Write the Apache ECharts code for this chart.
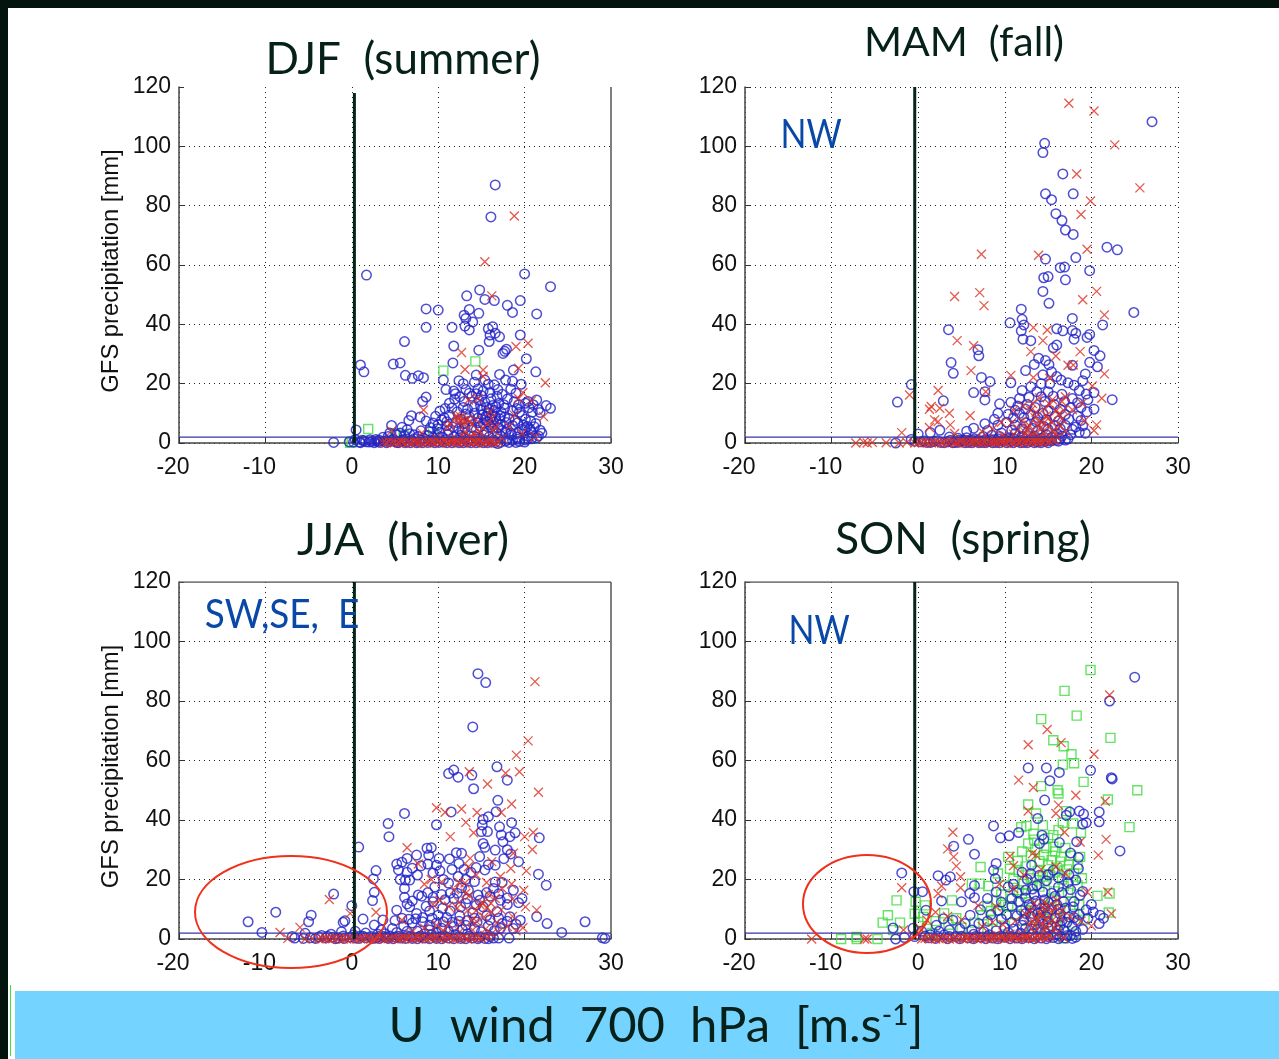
<!DOCTYPE html>
<html>
<head>
<meta charset="utf-8">
<title>GFS precipitation vs U wind</title>
<script src="https://cdn.jsdelivr.net/npm/echarts@6/dist/echarts.min.js"></script>
<style>
  html, body { margin: 0; padding: 0; background: #fff; }
  #main { width: 1279px; height: 1059px; }
</style>
</head>
<body>
<div id="main"></div>
<script>
// values: [u wind, precipitation]
const xTicks = [-20, -10, 0, 10, 20, 30];
const yTicks = [0, 20, 40, 60, 80, 100, 120];
const titles = ["DJF  (summer)", "MAM  (fall)", "JJA  (hiver)", "SON  (spring)"];

const djfSquares = [[1.9,4.7],[10.6,24.4],[14.3,27.5],[0,0.2],[-0.2,0.1],[9.4,3.8],[5,3.2],[6,2.8]];
const djfCircles = [[16.6,87],[16.1,76.2],[1.7,56.6],[20,57],[23,52.7],[14.8,51.6],[13.3,49.6],[15.4,48.4],[16.5,48],[19.5,48],[18,46.4],[18.6,44],[21.4,43.5],[8.6,45.2],[10,44.8],[13.6,45],[14.7,43.7],[13,43.1],[13.2,42],[14,40.8],[8.6,39],[11.6,39],[13.1,39.4],[13.6,38.1],[15.8,38.5],[16.3,39.2],[16,36.4],[16.6,37],[17.1,35.8],[15.9,34.2],[19.5,36.4],[6.1,34.2],[11.8,32.7],[14.7,31.3],[17.5,30.2],[17.9,31.6],[17.7,30.9],[20.2,28.4],[1,26.3],[1.4,24],[4.8,26.6],[5.6,27],[6.2,22.8],[7,21.8],[7.7,22.7],[8.3,22],[11.7,27],[21.3,24],[10.6,21.2],[14.4,22.9],[17.1,23.1],[18.7,24.6],[12.4,21],[12.9,20],[14.2,20.5],[15.4,21.2],[15.8,19.8],[17.8,21.2],[18.6,20.8],[19.6,19.8],[10.9,18],[11.8,17.5],[13.2,18],[13.6,16.8],[14.6,18.2],[16,17],[16.9,18],[18.4,18.2],[19,16.8],[11.9,14.8],[13.9,15.8],[15,16],[8.6,15.5],[8.2,14],[21.4,14.5],[22.5,12.6],[23,11.7],[20.5,11.9],[20.9,10.4],[19.7,9.3],[16.3,12.6],[17,13.3],[17.6,12.9],[16.5,11],[17.3,10.4],[15.8,10.2],[15,11.2],[14.2,10],[13.2,9.8],[12.2,10.5],[11.3,9.4],[10.7,8.5],[11,7.2],[10,6.2],[6.9,9.2],[6.6,7.6],[7.9,8.8],[8.6,7.4],[9.4,6.7],[4.6,5.9],[5.8,5.3],[6.4,4.5],[18.2,8.3],[18.9,7.6],[16.7,7.3],[17.2,6.2],[15.4,7.8],[14.6,6.8],[13.8,7.5],[13,6.5],[12.1,6.9],[19.9,6],[20.3,5.6],[21.1,5.5],[21.8,4.3],[22,3.3],[19.7,4.6],[20.8,3.6],[18,4.6],[16.3,4.9],[15.6,4],[14.4,4.4],[12.8,3.9],[11.2,4.2],[10.2,3.6],[9,3.9],[8,4.1],[7.2,2.8],[6.1,2.4],[5.2,2.8],[4.4,3.4],[3.6,1.9],[2.8,1.2],[0.5,4.4],[-2.1,0.2],[-0.3,0.4],[0.2,0.3],[0.9,0.3],[1.6,0.4],[2.3,0.5],[3,0.4],[3.7,0.6],[4.3,0.4],[5,0.5],[5.7,0.7],[6.4,0.4],[7.1,0.6],[7.8,0.3],[8.5,0.7],[9.2,0.4],[9.9,0.6],[10.6,0.3],[11.3,0.7],[12,0.4],[12.7,0.6],[13.4,0.3],[14.1,0.7],[14.8,0.4],[15.5,0.6],[16.2,0.3],[16.9,-0.2],[17.8,0.6],[18.6,0.9],[19.4,0.5],[20.1,1],[20.8,1.4],[21.4,1.8],[13,1.6],[14.5,1.9],[15.9,2.1],[17.2,2.4],[18.5,2.7],[11.8,2.1],[10.5,1.9],[9.4,1.8],[8.3,1.6],[7.2,1.4],[6,1.2],[4.8,1.3]];
const djfDense = [[14.9,12.6],[15.4,13.8],[16.1,14.9],[16.8,15.8],[15.6,12],[16.2,9],[15.1,9.4],[14.6,8.4],[13.6,8.9],[17.7,8.8],[17.1,8.2],[16.4,7],[15.9,6.2],[14.9,5.6],[13.9,5.3],[13.1,5],[12.4,4.8],[11.7,5.4],[11,5.9],[10.4,7.8],[9.9,4.8],[9.1,5.2],[17.9,6.9],[18.6,5.9],[19.2,6.8],[19.4,10.4],[19.1,11.6],[18.6,10.9],[17.7,11.8],[20.1,8],[20.7,7.4],[21.3,6.6],[21.6,2.4],[20.4,2.3],[19.1,2],[17.8,3.4],[16.8,3.3],[15.3,2.7],[14.1,2.4],[12.6,2.6],[11.1,2.9],[9.9,2.6],[8.8,2.5],[7.7,2.2],[6.7,3.1],[5.6,3.4],[4.2,2.2],[3.2,0.9],[2.1,1.1],[1.2,0.9],[0.4,1.2],[1,0.1],[2.6,0.1],[4,0.1],[5.4,0.1],[6.8,0.1],[8.2,0.1],[9.6,0.1],[11,0.1],[12.4,0.1],[13.8,0.1],[15.2,0.1],[16.6,0.2],[18.2,0.2],[19,0.2],[12.6,8],[13.4,11.4],[14.2,12.3],[12.9,12],[11.6,11.8],[10.8,11.6],[10.2,10.8],[9.7,9],[12.5,15.6],[13,14],[11.3,13.4],[14.7,14.4],[18,14.8],[18.8,13.9],[19.3,12.9],[20.1,13.4],[20.4,14],[21,12.9],[21.6,11.3],[21.8,10.3],[12,16.6],[15.2,17.6],[14.4,16.6],[16.5,19.6],[17.4,16.4],[16,8.3],[16.6,8.9],[17.2,9.2],[15.5,9],[15.9,11.4],[16.7,12.2],[15.2,6.7],[15.7,7.2],[16.1,5.5],[17.4,4.2],[16.9,5.1],[18.4,3.4],[19.2,3.5],[20,4.2],[20.6,4.8]];
const djfBase = [[1.4,0.8],[2,0.3],[2.9,0.7],[3.3,0.2],[4,0.8],[4.6,1],[5.2,0.2],[5.9,0.9],[6.2,0.1],[6.9,0.9],[7.5,0.1],[8,0.9],[8.8,0.2],[9.4,1],[10.1,0.2],[10.9,0.9],[11.6,0.1],[12.2,1],[12.9,0.1],[13.6,1],[14.4,0.1],[15,1],[15.7,0.1],[16.4,1],[17.2,0.2],[18,1.2],[19.2,1.3],[20,0.3],[20.4,1.5]];
const djfCrosses = [[18.8,76.5],[15.4,61.1],[16.2,49.6],[19,32.5],[20.4,33.6],[22.4,20.3],[12.7,30.5],[13.1,24.8],[15.2,24.6],[15.2,22.4],[19.3,25.2],[19.8,17],[19.3,15],[20.8,14.2],[22.2,8.9],[18.8,9.4],[8.3,11.1],[13.5,14.5],[14.6,15],[16,10.6],[21.2,2.1],[12.3,8.2],[12.9,7.6],[13.6,7.2],[14.4,7.8],[11.1,5.4],[13.1,3.8],[14.2,3.2],[15.2,5],[16.4,4.2],[18.2,5.6],[19.7,3.2],[3.6,0.2],[4.3,0.5],[5,0.2],[5.8,0.4],[6.5,0.2],[7.2,0.4],[7.9,0.3],[8.6,0.2],[9.3,0.4],[10,0.3],[10.7,0.5],[11.4,0.2],[12.1,0.5],[12.8,0.3],[13.5,0.6],[14.2,0.3],[14.9,0.5],[15.6,0.3],[16.3,0.5],[17,0.3],[13.9,1.6],[11.6,1.2],[9.8,1.5],[8.1,3.4],[4.6,4.1],[12.1,9.2],[12.6,8.9],[13.4,8.1],[11.4,6.4],[13.9,6.2],[14.8,3.8],[15.7,6.6],[16.2,8.3],[16.6,5.4],[17.4,1.6],[12.2,1.2],[13.2,1.4],[14.6,0.9],[15.9,1.2],[10.8,1.1],[9.1,1],[7.4,0.9],[5.6,0.8]];
const djfCrossBase = [[4,0.1],[4.7,0.3],[5.4,0],[6.1,0.2],[6.8,0],[7.5,0.2],[8.2,0],[8.9,0.3],[9.6,0],[10.3,0.2],[11,0],[11.7,0.3],[12.4,0],[13.1,0.2],[13.8,0],[14.5,0.2],[15.2,0],[15.9,0.2],[16.6,0],[12.9,2.4],[13.7,2.2],[14.6,1.8],[12.4,7],[13,6.2]];

const mamCircles = [[27,108.3],[14.6,101],[14.4,97.9],[16.7,90.7],[14.7,84],[15.4,82],[17.9,84],[15.9,77.3],[16.6,75],[17,71.8],[17.9,70.3],[18.2,62.5],[14.7,62],[16.4,59.1],[16.9,59.3],[19.8,58.1],[14.5,55.7],[15,56.1],[17,55],[14.4,51.1],[15.1,47.1],[21.8,66],[23,65.1],[24.9,44],[11.9,45.1],[12,41.7],[12.2,39.8],[10.6,40.5],[11.9,37.8],[12.1,35],[13,34.5],[3.5,38.2],[17.8,42],[21.3,39.8],[16,38.5],[16.7,37.8],[17.8,37.9],[18.2,37],[18,35],[19.8,36.6],[19.5,35.6],[6.9,31.4],[7,29.4],[3.8,27.1],[4.05,23.5],[7.3,22.1],[8.3,20.7],[10.7,20.3],[6.4,17],[7.7,17.3],[7.7,14.5],[2.9,14.2],[-0.8,19.7],[-2.4,13.8],[22.4,14.6],[20.3,31.2],[21,29.4],[20.3,11.4],[15.6,32.1],[16,33],[13.9,28.6],[13.4,26.5],[12.4,24.4],[14.7,27.8],[15.1,26.4],[19.8,27.2],[17.8,26.2],[20.7,25.7],[19.3,23.3],[17.3,20.3],[16,22.4],[16.5,21.2],[12,17.7],[13.7,17.3],[15,17.3],[18.6,17.7],[19.4,16.5],[20.3,17],[9.4,13.2],[10.7,13.7],[11.5,12.5],[12.6,13],[13.5,12],[14.6,14],[15.7,13],[16.9,14],[17.8,15],[18.8,12],[19.5,10.5],[18.4,9],[17,9.6],[15.8,9],[14.4,10],[13,9.5],[11.7,10],[10.4,9.7],[9.2,10],[8.8,8],[7.7,6.5],[6.4,5],[5.6,4],[2.5,4.3],[1.4,3.5],[0,3],[3.6,2],[4.6,1.6],[5.6,1.8],[6.5,1.4],[7.5,2.2],[8.5,2.6],[9.6,3.4],[10.8,4.3],[12,4.8],[13.2,5],[14.5,5.6],[15.8,5.8],[17,6],[18.2,5.4],[19.3,3.3],[16,3.2],[14.8,2.8],[13.4,2.4],[12,2.2],[10.6,1.8],[9.2,1.4],[0.3,0.4],[1,0.2],[1.8,0.5],[2.6,0.2],[3.4,0.4],[4.2,0.2],[5,0.6],[5.8,0.2],[6.6,0.5],[7.4,0.2],[8.2,0.5],[9,0.2],[9.8,0.6],[10.6,0.3],[11.4,0.5],[12.2,0.2],[13,0.6],[13.8,0.3],[14.6,0.6],[15.4,0.8],[16.2,0.6],[17,1],[-0.8,1.2],[-2.6,0]];
const mamDense = [[4.7,0.9],[5.3,1],[6,0.8],[6.9,1],[7.8,0.9],[8.7,1.1],[4,0.1],[4.6,0.2],[5.4,0.1],[6.2,0.1],[7,0.1],[7.8,0.1],[8.6,0.1],[9.4,0.1],[10.2,0.1],[11,0.1],[11.8,0.1],[12.6,0.1],[13.4,0.1],[14.2,0.1],[15,0.1],[9.4,2.2],[10,1.2],[11,1.5],[12.4,1.4],[13.2,1.2],[14.2,1.6],[15.4,1.9],[16.6,2.4],[17.6,2.8],[18.6,3.6],[11.2,3.2],[12.6,3.6],[13.8,4.2],[15,4.6],[16.4,4.8],[17.8,4.6],[19,5.8],[11.2,6],[12.4,6.8],[13.6,7.2],[14.8,7.8],[16.2,7.4],[17.4,8],[18.8,7.6],[10.2,7],[9.2,6],[8,4.2],[11,8.4],[12.2,8.6],[13.8,8.6],[15,10.8],[16.4,11.4],[17.6,12],[11.2,11],[12.4,11.4],[19.6,14.6],[18.4,13.6],[16.6,16.4],[15.6,15.8],[14.2,15.6],[12.8,15.4],[11.7,15],[13,19],[14.2,20],[15.2,20],[18,19.5],[19,21],[14.4,23],[15.4,24]];
const mamBase = [[-0.4,0.6],[0.7,0.7],[1.4,0.2],[2.2,0.8],[3,0.1],[3.7,0.9],[5.4,0.8],[6.2,0.9],[7,0.7],[7.6,0.9],[8.4,0.9],[9.2,0.8],[10,0.8],[10.8,0.8],[11.8,0.9],[12.6,0.8],[13.4,0.9],[14.2,0.7],[15,0.8],[15.9,0.9],[16.4,1.4],[17.3,1.4]];
const mamCrosses = [[17.4,114.5],[20.3,111.9],[22.7,100.5],[18.3,90.7],[25.6,86],[19.9,81.6],[18.8,77],[19.5,65.3],[7.3,63.6],[13.9,63.3],[20.6,51.1],[7.1,50.7],[4.2,49.4],[7.6,46.3],[19,48.3],[21.5,43.2],[13.3,38.9],[14.9,38.1],[4.5,34.5],[6.4,32.8],[14.4,34.5],[13,30.8],[18.7,30.8],[15.9,29.3],[6.1,24.4],[10.7,22.8],[13.3,22.1],[21.5,23.3],[17.3,26.2],[17.9,26.3],[15.2,21.8],[20.1,19.2],[2.3,17.7],[-1,16.2],[7.8,17.3],[21.2,15.1],[1.5,12.3],[1.3,11.4],[2.5,11.7],[3.6,10],[6,9.2],[1.9,7.8],[2.3,7.2],[3.7,6.1],[-1.9,3.5],[1.3,5.2],[20.6,6.1],[20.3,4.2],[19.2,7.5],[17.8,11.2],[18.9,13.4],[17,15.6],[15.5,14.6],[14,15.2],[13.2,13.3],[12.1,12.5],[14.5,11.5],[16,11],[13.5,8.5],[15,8.2],[16.6,8],[12,7.4],[10.8,6.8],[9.6,7],[11,11],[12.8,6],[14.2,5.4],[15.6,4.2],[17,4],[8.6,4.8],[7.4,3.8],[9.8,2.6],[11,3],[12.4,3.4],[13.6,3],[4.2,3.2],[-7.2,0],[-6.3,0.2],[-5.9,0],[-5.3,0.2],[-3.7,0.1],[-2.2,0],[-1.3,0.2],[-0.4,0],[0.4,0.2],[1.1,0],[1.9,0.2],[2.7,0],[3.4,0.3],[4.2,0.1],[4.9,0.4],[5.6,0.1],[6.3,0.4],[7,0.1],[7.7,0.4],[8.4,0.2],[9.1,0.5],[9.8,0.2],[10.5,0.5],[11.2,0.2],[11.9,0.6],[12.6,0.3],[13.3,0.6],[14,0.3],[14.7,0.7],[15.4,1.2],[16.1,2],[6,1.2],[8,1.4],[10,1.6],[12,1.8],[14,2],[5,0.9],[6.6,0.9],[7.4,1],[8.8,0.8],[9.4,1],[10.4,1.2],[11.4,1],[12.6,1.2],[13.4,1.4],[13,2.6],[14.6,3],[15.8,3],[11.6,4.6],[12.6,4.8],[13.8,6],[15,5.6],[16.4,5.8],[14.8,9.2],[13.6,10.4],[16.2,9.6],[15.2,13],[16.6,14]];
const mamCrossBase = [[0,0.1],[0.8,0.3],[1.5,0],[2.3,0.3],[3,0.1],[3.8,0.4],[4.5,0],[5.2,0.3],[6,0.1],[6.7,0.3],[7.4,0],[8.1,0.3],[8.8,0.1],[9.5,0.3],[10.2,0],[10.9,0.3],[11.6,0],[12.3,0.4],[13,0.1],[13.7,0.4],[14.4,0.1],[15.1,0.5],[15.8,1],[12.8,1.8],[13.8,1.2],[14.8,1.8],[13,11],[14.2,7],[15.4,7],[16.8,11]];

const jjaCircles = [[14.6,89.2],[15.5,86.2],[14,71.3],[16.8,57.9],[11.2,55.6],[11.8,56.8],[12.3,54.4],[13.9,55.1],[18,53.4],[14.1,50.5],[16.9,46.6],[6.1,42.2],[11.5,42.7],[16.7,42.8],[4.2,38.8],[9.8,38.4],[4.3,34.4],[18.5,39.1],[15.2,40.2],[15.8,41.1],[15.1,38.3],[17.1,37.7],[15,36.1],[15.7,36.1],[18.9,35.7],[21.7,34],[17.3,35],[18.3,34.4],[17.5,32.7],[0.8,30.9],[9.2,30.7],[8.7,30.5],[7.5,28.2],[8.9,28.2],[15.2,32.1],[15.4,30.8],[16.6,29.9],[12.1,29],[12.7,28.8],[11.3,26.9],[10.1,27.1],[6.4,27.1],[5.8,25.8],[5.2,25.2],[5.4,23.2],[14.8,27.7],[19.3,26],[21.6,21.8],[22.5,18.1],[2.8,23],[2.5,20.2],[5.6,20],[6.2,19.8],[6.7,19.8],[7.6,21.5],[9.8,24.8],[10.2,22.9],[15.4,23.2],[16.6,19.2],[17.4,19],[2.6,15.7],[2.4,12.9],[6.1,17],[6.1,14],[7.7,14.8],[8.1,14.4],[-2.1,15.1],[0,11.2],[-8.8,9],[-12,5.8],[-4.7,8],[-5,5.8],[-0.8,6.1],[-1,5.6],[-10.4,2.2],[-6.9,0.8],[-5.4,1.9],[1.3,6.7],[2.6,4.7],[5.2,9.7],[6.7,10.8],[7.5,8.6],[9.4,12.5],[10.5,10.3],[11.8,13.6],[13.5,16.4],[21.4,7.5],[22.6,5.2],[24.3,2.2],[27,5.8],[29,0.4],[29.3,0.2],[19.5,6.3],[19.3,12.2],[18,11.6],[18.7,16.4],[19.7,13.6],[12.3,21],[13.2,20],[14.2,19.3],[11.2,18.8],[12.7,17.2],[9.6,17.5],[10.4,15],[13.4,13.5],[14.8,13],[16,14.4],[17,15.2],[15.2,10.8],[16.8,9.2],[14,8.8],[12.5,7.8],[11,7.2],[9.3,7],[8.2,5.8],[7,5.4],[6,4.4],[4.7,3.5],[3.4,3],[3.6,6.4],[18.3,7.5],[17.4,5.2],[16,6.4],[14.5,5.7],[13.2,4.6],[11.8,4.2],[10.4,3.6],[9,3],[7.6,2.6],[18.7,3.5],[16.5,2.8],[15,2.4],[13.4,1.8],[12,1.5],[10.6,1.2],[9.2,1.4],[7.8,0.8],[6.4,1.1],[5,0.7],[3.6,0.9],[2.2,0.8],[1,1],[-0.2,0.6],[-1.6,0.3],[-3,0.4],[-4.2,0.2],[-5.6,0.2],[-6.6,0.3],[-3.5,1.2],[-2.4,1.6],[-1.2,2.4],[0.4,2.6],[1.6,2],[2.8,0.3],[4.2,0.2],[5.6,0.3],[7,0.2],[8.4,0.3],[9.8,0.2],[11.2,0.3],[12.6,0.2],[14,0.3],[15.4,0.2],[16.4,0.3]];
const jjaDense = [[6.4,22.4],[7,23.8],[8,24.6],[8.8,25.2],[9.4,22.2],[10.6,20],[11.6,23.4],[12.4,25.4],[13,23.4],[13.8,22.4],[14.4,24],[15.8,25],[16.6,24.8],[17.6,27],[18,30],[18.4,28.6],[6.4,11.8],[7,12.8],[8.6,11],[9,9.4],[10,8],[11.4,9.4],[12.6,10.8],[13.2,12],[14.4,11.4],[14.6,14.8],[15.6,15.6],[16.4,17],[17.2,13],[18,13.8],[8.8,15.6],[9.4,14],[10.8,13.2],[11.4,15.4],[12.2,15.4],[5,6.2],[5.8,7],[6.6,6.6],[7.4,6.8],[8.2,7.2],[9,4.6],[9.8,5.4],[10.6,5.8],[11.6,5.6],[12.4,6],[13.4,6.2],[14.2,7],[15.6,7.8],[17,7],[18,6],[19,5],[12.8,3.2],[14.2,3.4],[15.8,4.4],[17.2,3.6],[6.4,2.6],[5.2,2.2],[3.8,1.8],[3,1.6],[4.4,1],[8.4,1.8],[9.8,2],[11.2,2.4],[0.2,1.4],[-1,1],[-2.2,0.6],[0.8,0.2],[1.6,0.4],[3.2,0.2],[4.8,0.1],[6.2,0.2],[7.6,0.1],[9,0.1],[10.4,0.1],[11.8,0.1],[13.2,0.1],[14.6,0.1],[15.8,0.1]];
const jjaBase = [[-4.8,0.4],[-3.8,0.7],[-2.8,0.9],[-1.9,0.1],[-0.9,0.2],[0.4,0.3],[1.3,0.9],[2.4,0.2],[3.1,0.8],[4,0.6],[5.4,0.9],[6.8,0.8],[8,1],[9.6,0.8],[10.8,0.8],[12.4,0.8],[13.6,0.9],[14.8,0.7],[16,0.9],[17,0.3],[18.2,0.3]];
const jjaCrosses = [[21.2,86.5],[20.4,66.6],[19.05,61.8],[19.4,56.2],[17.8,55.7],[13.6,56.2],[15.7,52.1],[21.6,49.3],[18.5,45.4],[9.8,44.1],[10.8,42.6],[12.7,43.7],[14.5,42.5],[13.2,39.2],[17.3,42.5],[14.1,35.7],[11.4,34.4],[20,34.4],[21,35.8],[20.9,30.1],[6.4,30.7],[7.7,25.2],[18.7,28.8],[16.2,26],[18.4,23.7],[20.2,22.9],[13.7,27.1],[13.5,24.3],[-2.6,13.3],[-0.2,8.6],[2.8,9],[-6,3.9],[-8.3,2.2],[5.8,6.4],[19.9,16.4],[20.1,10.8],[21.4,9.7],[19.8,3.8],[18.5,18.5],[17.2,21],[15.6,19],[14.4,21.5],[13.1,18.8],[11.9,16.6],[10.4,19.2],[9.2,20],[8.4,18.4],[12.4,12.3],[13.6,14.6],[14.8,11.6],[16.1,12],[17.3,9.8],[18.6,7.6],[15.3,7.4],[13.9,6.2],[12.6,5.6],[11.2,5],[9.8,4.6],[8.4,3.6],[7,2.4],[16.8,5.5],[18,4.2],[19,2.8],[-7.4,0.2],[-5.4,0],[-4.6,0.2],[-3.8,0],[-3,0.3],[-2.2,0.1],[-1.4,0.3],[-0.6,0],[0.2,0.3],[1,0.1],[1.8,0.4],[2.6,0.1],[3.4,0.4],[4.2,0.1],[5,0.4],[5.8,0.1],[6.6,0.4],[7.4,0.2],[8.2,0.5],[9,0.2],[9.8,0.5],[10.6,0.2],[11.4,0.5],[12.2,0.2],[13,0.6],[13.8,0.3],[14.6,0.6],[15.4,1.2],[16.2,1.8],[17,2.4],[11,1.6],[12.5,2.4],[14,3],[15.5,3.4],[13.4,9.6],[14.4,9.6],[12.2,10.4],[11.2,11],[15.6,10.4],[16.6,13.6],[13.2,15.4],[12.4,19],[15.8,15],[17.4,17],[18.6,13.4],[10.2,13],[9.4,11.6],[6,1.2],[7.6,1.2],[9.2,1.4],[10.6,2.8]];
const jjaCrossBase = [[-3.4,0.1],[-2.6,0],[-1.8,0.2],[-1,0],[-0.2,0.2],[0.6,0],[1.4,0.2],[2.2,0],[3,0.2],[3.8,0],[4.6,0.2],[5.4,0],[6.2,0.2],[7,0],[7.8,0.3],[8.6,0],[9.4,0.3],[10.2,0],[11,0.3],[11.8,0],[12.6,0.3],[13.4,0],[14.2,0.3],[15,0.2],[15.8,0.8],[14.4,6],[15.2,12],[16.2,9]];

const sonSquares = [[19.9,90.4],[16.9,83.4],[18.3,75.1],[14.2,73.9],[22.2,67.6],[15.6,66.8],[16.8,64.8],[17.7,62.1],[16.7,58.6],[18,59.1],[25.3,50],[19.1,52.8],[14.2,51.4],[16.1,50],[16.2,48.9],[21.9,46.9],[12.7,45.2],[13.6,42.2],[17.1,43],[24.4,37.6],[12.5,38],[11.9,37.6],[13.3,35.4],[14.4,38.2],[15.6,34.9],[17.9,38.8],[16.7,39.1],[18.8,35.7],[12.7,32.1],[15.6,31],[7.2,24.2],[10.4,27.6],[11.5,26.2],[6.2,18.6],[7.1,18.6],[8.1,17.8],[3.9,13],[-2.5,13],[-3.5,8],[-4.1,5.5],[-2.1,5.5],[-2.9,3],[-0.4,8.5],[-0.3,12.5],[0.8,11.3],[0.6,7.4],[0,5.7],[-8.9,0],[-7.1,0.7],[-7.1,0],[-4.7,0],[22.1,15.3],[20.7,14.5],[22,8.9],[18.7,27.6],[16.5,27.6],[13.5,30],[14.5,28.3],[15.4,26.5],[17.4,25],[12.4,24.4],[13.8,22.8],[15.2,21.5],[16.6,20],[18,22],[11,20.2],[12.2,18.5],[14,17.6],[15.7,16],[17.3,15.5],[9.6,15],[10.8,13.5],[12.8,12.4],[14.6,11.2],[16.4,10],[18.6,11.5],[8,11],[9.4,9.5],[11.2,8.3],[13.2,7.2],[15,6.8],[17,5.5],[19.2,6.5],[2,6],[3.5,4.8],[5,3.8],[6.5,5.5],[8,3.5],[10,4.5],[12,3.2],[14,3],[16,2.8],[18,1.8],[16.8,0.2],[13,28],[14,26.2],[16,24],[17,30.6],[15,24.8],[11.6,22.6],[13,20.4],[14.6,19.4],[16.8,17.8],[18.4,18],[10,18],[12,15.2],[15.4,13.6],[17.6,12.6],[9,13],[10.4,10.8],[12.4,9.8],[14.4,8.8],[16,7.2],[18,8.4],[7.4,8],[8.6,6.4],[1,3.4],[1.6,2],[15.8,29.4],[16.4,26],[17.6,28],[14.8,30.6],[13.4,33.4],[15,34],[16.2,36.6],[12,29.4],[10.6,23.6],[9.2,22],[18.4,25],[18.9,20.4],[17.2,23.4],[15.8,22.4],[14.4,21],[13.2,18],[11.6,16.4],[9.8,11.4],[8.4,9.4],[4.4,7],[3,8.6]];
const sonCircles = [[25,88],[22.1,80],[19.9,56.7],[14.8,57.5],[12.7,57.5],[16.3,56],[15.2,53.2],[22.3,54.2],[22.4,53.8],[14.6,46.7],[17.5,42.7],[18.6,43],[17.1,41.6],[19.1,42],[20.9,42.7],[20.9,39.4],[19,38.6],[19.4,39.1],[8.7,38],[13.8,40.5],[11.6,35.8],[10.5,34.7],[9.5,34],[5.8,33.5],[4.1,31.2],[6.5,28.5],[14.3,34.9],[14.5,33.5],[14,32.1],[16.3,32.4],[18.3,32.7],[17.6,28.9],[23.3,29.6],[18.5,27.4],[-1.9,22.2],[2.3,21.3],[3.7,20.9],[3.2,19.8],[-0.5,15.9],[0.5,15.9],[2.7,12.8],[9,25.4],[8.7,23.1],[8.9,20.3],[6.5,18],[5.96,15.3],[6.5,13.9],[5,12.5],[0.9,9.7],[-2.9,3.7],[-2.6,0],[2.9,6.8],[4,6.3],[2.1,4.6],[6,8],[8,13.6],[10.4,17.5],[13.1,24.8],[15.6,23.1],[18.5,23.7],[18.7,14.7],[17.9,10.8],[20.2,9.1],[20.9,5.2],[12.6,20],[13.7,18],[14.8,19.6],[16.2,17.5],[17.3,19],[11.4,15.6],[12.4,13.8],[13.4,15],[14.6,13.2],[15.8,14.4],[16.8,12.6],[9.6,12.4],[10.8,11],[11.9,9.6],[13,10.6],[14.2,9.2],[15.4,10],[16.4,8.4],[18.6,8.2],[19.6,7],[7.2,9.8],[8.4,8.2],[9.6,6.8],[10.8,5.6],[12.2,6.4],[13.6,5],[15,5.6],[16.4,4.6],[17.8,4.2],[19,3.2],[4.8,3.4],[6.2,3],[7.6,2.4],[9,2.8],[10.4,2.2],[11.8,2],[13.2,1.8],[14.6,2.2],[16,1.6],[17.6,1.2],[3,1.4],[4.4,0.8],[5.8,0.4],[7.2,0.6],[8.6,0.3],[10,0.6],[11.4,0.3],[12.8,0.5],[14.2,0.3],[15.6,0.5],[17,0.3],[18.2,0.6],[-1.6,0.5],[-0.4,0.8],[0.8,1]];
const sonDense = [[13,7.6],[13.8,8.6],[14.8,7.6],[15.8,7],[16.6,6.2],[17.4,7.4],[18.4,6.2],[12.4,8.6],[11.4,7.8],[10.2,8.2],[9.2,9.6],[8,6],[7,5.2],[5.4,5.2],[3.6,3],[2.4,2.6],[1.4,1.4],[12.8,11.6],[14,11.8],[15,12.4],[16,11.6],[17,10.4],[18,12.6],[13.6,12.8],[12.4,16.4],[13.2,16.8],[14.4,15.8],[15.4,15.4],[16.6,15.6],[17.6,16.6],[10.8,13.6],[11.6,12.6],[9,15.8],[11,18.4],[12,22.4],[13,22],[14,21.4],[15,21.6],[16.2,20.6],[17.4,21.6],[18.2,19.8],[19,16],[20,11.6],[19.4,9.8],[21,8],[21.4,7],[2,0.2],[3.4,0.1],[4.8,0.1],[6.4,0.1],[7.8,0.1],[9.2,0.1],[10.6,0.1],[12,0.1],[13.4,0.1],[14.8,0.1],[16.2,0.1],[17.8,0.2],[10,3.8],[11,3.4],[12.4,3.6],[13.8,3.4],[15,3.8],[16.8,3],[18.2,2.6],[6.4,1.6],[8.2,1.4],[0.4,2.6],[-0.6,3.6]];
const sonBase = [[1.2,0.4],[2.2,0.9],[3.6,0.8],[5,0.9],[6.6,0.8],[8,0.9],[9.4,0.8],[10.8,0.9],[12.2,0.8],[13.6,0.9],[15,0.8],[16.4,0.9],[17.2,1.2],[14,7],[14.4,5],[15.4,4.4],[16.2,3],[13.2,3.4],[12,4.6],[15,9],[16.2,10],[13.2,8.6],[14.6,10.6],[17.2,5.6],[18,7.2]];
const sonCrosses = [[22.1,82],[14.9,70.4],[12.7,65.3],[16.5,66],[20.3,62.1],[11.6,53.4],[13.3,50.9],[18.2,48.3],[16.2,45],[21.6,46.3],[12.7,43],[15.9,42.2],[4,35.9],[3.4,30.3],[4.1,27.6],[4.4,24.5],[21.7,33.5],[20.8,28.2],[16.9,35.9],[18.7,32.6],[4.9,20.9],[4.9,17.2],[-1.9,17.2],[2.7,17.8],[2.3,15.3],[-12.3,0],[-6.2,0],[-5.9,0],[-1.7,3],[22.3,8.5],[21.9,15.8],[19.5,15.8],[6.9,11.3],[9,10.8],[10.6,27.8],[13.2,28.7],[13.6,28.2],[11,24.6],[12.2,21.5],[14.2,23.4],[15.9,24.3],[17,22],[9.4,18.5],[11,17],[13.4,12],[14.4,10.6],[15.4,8.8],[16.6,9.6],[17.6,7.5],[18.8,6],[20,4.4],[12.4,8.4],[13.6,7],[14.8,6.2],[16,5],[11.2,6],[9.8,4.8],[8.6,5.6],[7.4,4.2],[5,6.5],[3.4,7.6],[2,9],[1,6.4],[0.2,3.6],[-0.6,1.2],[0.8,0.2],[1.6,0.4],[2.4,0.1],[3.2,0.4],[4,0.1],[4.8,0.4],[5.6,0.1],[6.4,0.4],[7.2,0.2],[8,0.5],[8.8,0.2],[9.6,0.5],[10.4,0.2],[11.2,0.5],[12,0.2],[12.8,0.6],[13.6,0.3],[14.4,0.6],[15.2,1.2],[16,1.8],[16.8,0.4],[12,1.6],[13.4,2.2],[14.6,2.8],[15.8,3.4],[10.6,1.6],[9,1.4],[12.8,5],[13.4,4.4],[14.2,5],[14.8,4.2],[15.4,6],[16.4,7.4],[13,9.4],[14,8.4],[15,11],[16,13],[5.6,1],[7,1],[8.4,1],[9.8,1.2],[11,1],[12.4,1],[13.8,1.2],[15,0.8]];
const sonCrossBase = [[0.4,0],[1.2,0.2],[2,0],[2.8,0.2],[3.6,0],[4.4,0.2],[5.2,0],[6,0.2],[6.8,0],[7.6,0.3],[8.4,0],[9.2,0.3],[10,0],[10.8,0.3],[11.6,0],[12.4,0.3],[13.2,0],[14,0.3],[14.8,0.2],[13.8,6.2],[14.4,8],[13.2,6],[15.8,10.6],[14.6,12.4]];

const panels = [
  { squares: djfSquares, circles: [...djfCircles, ...djfDense, ...djfBase], crosses: [...djfCrosses, ...djfCrossBase], zero: 0.3, top: 118, rightLine: true, topLine: false },
  { squares: [], circles: [...mamCircles, ...mamDense, ...mamBase], crosses: [...mamCrosses, ...mamCrossBase], zero: -0.4, top: 120, rightLine: false, topLine: false },
  { squares: [], circles: [...jjaCircles, ...jjaDense, ...jjaBase], crosses: [...jjaCrosses, ...jjaCrossBase], zero: 0.3, top: 120, rightLine: true, topLine: true },
  { squares: sonSquares, circles: [...sonCircles, ...sonDense, ...sonBase], crosses: [...sonCrosses, ...sonCrossBase], zero: -0.4, top: 120, rightLine: true, topLine: true },
];
const threshold = 2;

const myChart = echarts.init(document.getElementById("main"));
const boxes = [
  { left: 179, top: 87, width: 432, height: 356 },
  { left: 745, top: 87, width: 433, height: 356 },
  { left: 179, top: 582, width: 432, height: 357 },
  { left: 745, top: 582, width: 433, height: 357 },
];
const crossPath = "path://M0 0L10 10M10 0L0 10";
const xMax = xTicks[xTicks.length - 1];
const yMax = yTicks[yTicks.length - 1];

const labelFont = { color: "#111", fontSize: 23, fontFamily: "Liberation Sans" };
const dotted = { color: "#222", type: [1, 4], width: 1 };
const grid = boxes.map((b) => ({ ...b, show: false }));
const xAxis = boxes.map((b, i) => ({
  type: "value", gridIndex: i, min: xTicks[0], max: xMax, interval: 10,
  axisLine: { show: true, onZero: false, lineStyle: { color: "#444", width: 1.5 } },
  axisTick: { inside: true, length: 5, lineStyle: { color: "#333" } },
  axisLabel: {
    ...labelFont, margin: 13, showMinLabel: true, showMaxLabel: true,
    formatter: (v) => (v < 0 ? "{neg|" + v + "}" : "" + v),
    rich: { neg: { ...labelFont, padding: [0, 12, 0, 0] } },
  },
  splitLine: { showMaxLine: i === 1, lineStyle: dotted },
}));
const yAxis = boxes.map((b, i) => ({
  type: "value", gridIndex: i, min: yTicks[0], max: yMax, interval: 20,
  name: i % 2 === 0 ? "GFS precipitation [mm]" : "",
  nameLocation: "middle", nameGap: 56,
  nameTextStyle: { color: "#111", fontSize: 23.8, fontFamily: "Liberation Sans", padding: [0, 12, 0, 0] },
  axisLine: { show: true, onZero: false, lineStyle: { color: "#444", width: 1.5 } },
  axisTick: { inside: true, length: 5, lineStyle: { color: "#333" } },
  axisLabel: { ...labelFont, margin: 8, padding: [3, 0, 0, 0] },
  splitLine: { showMaxLine: i === 1, lineStyle: dotted },
}));

const series = [];
panels.forEach((p, i) => {
  const base = { type: "scatter", xAxisIndex: i, yAxisIndex: i, silent: true, animation: false, progressive: 0, clip: false };
  const line = { type: "line", xAxisIndex: i, yAxisIndex: i, silent: true, animation: false, showSymbol: false };
  series.push({ ...base, name: "square", z: 2, data: p.squares, symbol: "rect", symbolSize: 9,
    itemStyle: { color: "none", borderColor: "#3fdc3f", borderWidth: 1.4 } });
  series.push({ ...base, name: "circle", z: 3, data: p.circles, symbol: "circle", symbolSize: 9.5,
    itemStyle: { color: "none", borderColor: "#2222c8", borderWidth: 1.5 } });
  series.push({ ...base, name: "cross", z: 4, data: p.crosses, symbol: crossPath, symbolSize: 9,
    itemStyle: { color: "none", borderColor: "#dc3020", borderWidth: 1.3 } });
  series.push({ ...line, z: 5, data: [[xTicks[0], threshold], [xMax, threshold]],
    lineStyle: { color: "#3434a8", width: 1.3 } });
  series.push({ ...line, z: 6, data: [[p.zero, 0], [p.zero, p.top]],
    lineStyle: { color: "#04241a", width: 3 } });
  // frame sides that only some panels have
  if (p.rightLine) series.push({ ...line, z: 1, data: [[xMax, 0], [xMax, yMax]], lineStyle: { color: "#555", width: 1.5 } });
  if (p.topLine) series.push({ ...line, z: 1, data: [[xTicks[0], yMax], [xMax, yMax]], lineStyle: { color: "#555", width: 1.5 } });
});

const sans = "Lato";
const bigText = (text, x, y, size, fill, scaleX) => ({
  type: "text", x, y, z: 20, scaleX: scaleX || 1,
  style: { text, fill, font: size + "px " + sans, textAlign: "center", textVerticalAlign: "middle" },
});

myChart.setOption({
  backgroundColor: "#ffffff",
  animation: false,
  grid, xAxis, yAxis, series,
  graphic: { elements: [
    { type: "rect", z: 10, shape: { x: 0, y: 0, width: 1279, height: 8 }, style: { fill: "#03140f" } },
    { type: "rect", z: 10, shape: { x: 0, y: 0, width: 8, height: 1059 }, style: { fill: "#03140f" } },
    { type: "line", z: 10, shape: { x1: 10.5, y1: 985, x2: 10.5, y2: 1056 }, style: { stroke: "#3ee03e", lineWidth: 1 } },
    { type: "rect", z: 10, shape: { x: 15, y: 991, width: 1264, height: 68 }, style: { fill: "#75d4ff" } },
    bigText(titles[0], 403, 60, 44, "#06201a"),
    bigText(titles[1], 964, 43, 41, "#06201a"),
    bigText(titles[2], 403, 540, 45, "#06201a"),
    bigText(titles[3], 963, 540, 44, "#06201a"),
    bigText("NW", 811, 135, 40, "#0a48a8", 0.85),
    bigText("SW,SE,  E", 282, 615, 41, "#0a48a8", 0.9),
    bigText("NW", 819, 631, 40, "#0a48a8", 0.85),
    { type: "ellipse", z: 12, shape: { cx: 291, cy: 912, rx: 96, ry: 56 }, style: { fill: "none", stroke: "#f0301a", lineWidth: 2 } },
    { type: "ellipse", z: 12, shape: { cx: 867, cy: 904, rx: 64, ry: 49 }, style: { fill: "none", stroke: "#f0301a", lineWidth: 2 } },
    { type: "text", z: 20, x: 656, y: 1026,
      style: {
        text: "{a|U  wind  700  hPa  [m.s}{s|-1}{a|]}",
        textAlign: "center", textVerticalAlign: "middle",
        rich: {
          a: { font: "49px " + sans, fill: "#06201a", color: "#06201a" },
          s: { font: "28px " + sans, fill: "#06201a", color: "#06201a", padding: [0, 0, 20, 0] },
        },
      } },
  ] },
});
</script>
</body>
</html>
